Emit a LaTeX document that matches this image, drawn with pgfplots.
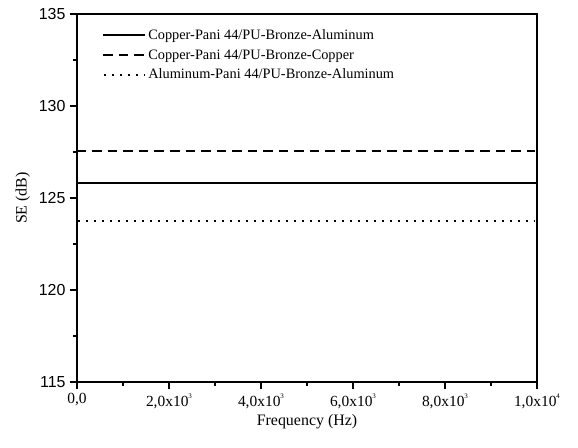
\documentclass[border=0pt]{standalone}
\usepackage{fontspec}
\setmainfont{Liberation Serif}
\newfontfamily\arialfont{Liberation Sans}
\usepackage{pgfplots}
\pgfplotsset{compat=1.18}
\newcommand{\tsup}[1]{\raisebox{0.55em}{\fontsize{7}{8}\selectfont #1}}
\begin{document}
\begin{tikzpicture}
\begin{axis}[
  at={(0,0)}, anchor=south west,
  scale only axis, width=460bp, height=368bp,
  xmin=0, xmax=10000, ymin=115, ymax=135,
  scaled x ticks=false,
  xtick={0,2000,4000,6000,8000,10000},
  xticklabels={{0,0}, {2,0x10\tsup{3}}, {4,0x10\tsup{3}}, {6,0x10\tsup{3}}, {8,0x10\tsup{3}}, {1,0x10\tsup{4}}},
  xticklabel style={font=\fontsize{15.5}{17}\selectfont, yshift=-1bp},
  ytick={115,120,125,130,135},
  yticklabels={115,120,125,130,135},
  yticklabel style={font=\arialfont\fontsize{16}{18}\selectfont, xshift=-1bp},
  minor xtick={1000,3000,5000,7000,9000},
  minor ytick={117.5,122.5,127.5,132.5},
  tick align=outside, tick pos=left,
  major tick length=7bp, minor tick length=4bp,
  every tick/.style={black, line width=1.3pt},
  axis line style={line width=1.4pt},
  xlabel={Frequency (Hz)}, ylabel={SE (dB)},
  label style={font=\fontsize{16}{18}\selectfont},
  xlabel style={yshift=1bp},
  ylabel style={yshift=2bp},
  legend style={draw=none, fill=none, at={(0.055,0.963)}, anchor=north west,
    font=\fontsize{14.4}{16}\selectfont, row sep=4.5bp, inner sep=0pt, outer sep=0pt,
    /tikz/every even column/.append style={column sep=1bp}},
  legend cell align=left,
  legend image code/.code={\draw[#1] (0bp,0bp) -- (42bp,0bp);},
]
\addplot[black, line width=2pt] coordinates {(0,125.82) (10000,125.82)};
\addlegendentry{Copper-Pani 44/PU-Bronze-Aluminum}
\addplot[black, line width=1.7pt, dash pattern=on 9.5bp off 6bp] coordinates {(0,127.55) (9950,127.55)};
\addlegendentry{Copper-Pani 44/PU-Bronze-Copper}
\addplot[black, line width=1.7pt, dash pattern=on 1.8bp off 6.2bp, dash phase=-1bp] coordinates {(0,123.75) (9950,123.75)};
\addlegendentry{Aluminum-Pani 44/PU-Bronze-Aluminum}
\end{axis}
\pgfresetboundingbox
\path[use as bounding box] (-77bp,-66bp) rectangle (501bp,382bp);
\end{tikzpicture}
\end{document}
